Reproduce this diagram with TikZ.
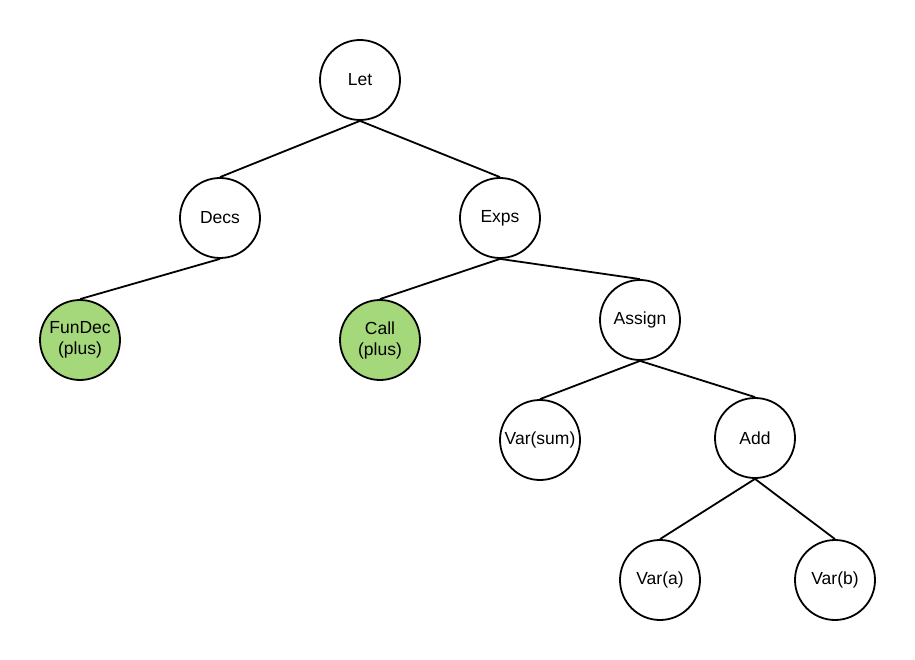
\documentclass[tikz,border=0pt]{standalone}
\usepackage{fontspec}
\setmainfont{Liberation Sans}
\definecolor{leafgreen}{HTML}{A4D87A}
\begin{document}
\begin{tikzpicture}[x=1pt,y=-1pt,
  treenode/.style={circle,draw=black,line width=1.8pt,fill=white,
    minimum size=80pt,inner sep=0pt,align=center,
    font=\fontsize{17.5}{21}\selectfont},
  marked/.style={treenode,fill=leafgreen},
  edge/.style={draw=black,line width=1.8pt}]
  \useasboundingbox (0,0) rectangle (915,660);
  % nodes of the syntax tree
  \node[treenode] (let)    at (360,80)  {Let};
  \node[treenode] (decs)   at (220,218) {Decs};
  \node[treenode] (exps)   at (500,218) {Exps};
  \node[marked]   (fundec) at (80,340)  {FunDec\\(plus)};
  \node[marked]   (call)   at (380,340) {Call\\(plus)};
  \node[treenode] (assign) at (640,320) {Assign};
  \node[treenode] (varsum) at (540,440) {Var(sum)};
  \node[treenode] (add)    at (755,438) {Add};
  \node[treenode] (vara)   at (660,580) {Var(a)};
  \node[treenode] (varb)   at (835,580) {Var(b)};
  % parent-child links, bottom of parent to top of child
  \draw[edge] (let.south) -- (decs.north);
  \draw[edge] (let.south) -- (exps.north);
  \draw[edge] (decs.south) -- (fundec.north);
  \draw[edge] (exps.south) -- (call.north);
  \draw[edge] (exps.south) -- (assign.north);
  \draw[edge] (assign.south) -- (varsum.north);
  \draw[edge] (assign.south) -- (add.north);
  \draw[edge] (add.south) -- (vara.north);
  \draw[edge] (add.south) -- (varb.north);
\end{tikzpicture}
\end{document}
